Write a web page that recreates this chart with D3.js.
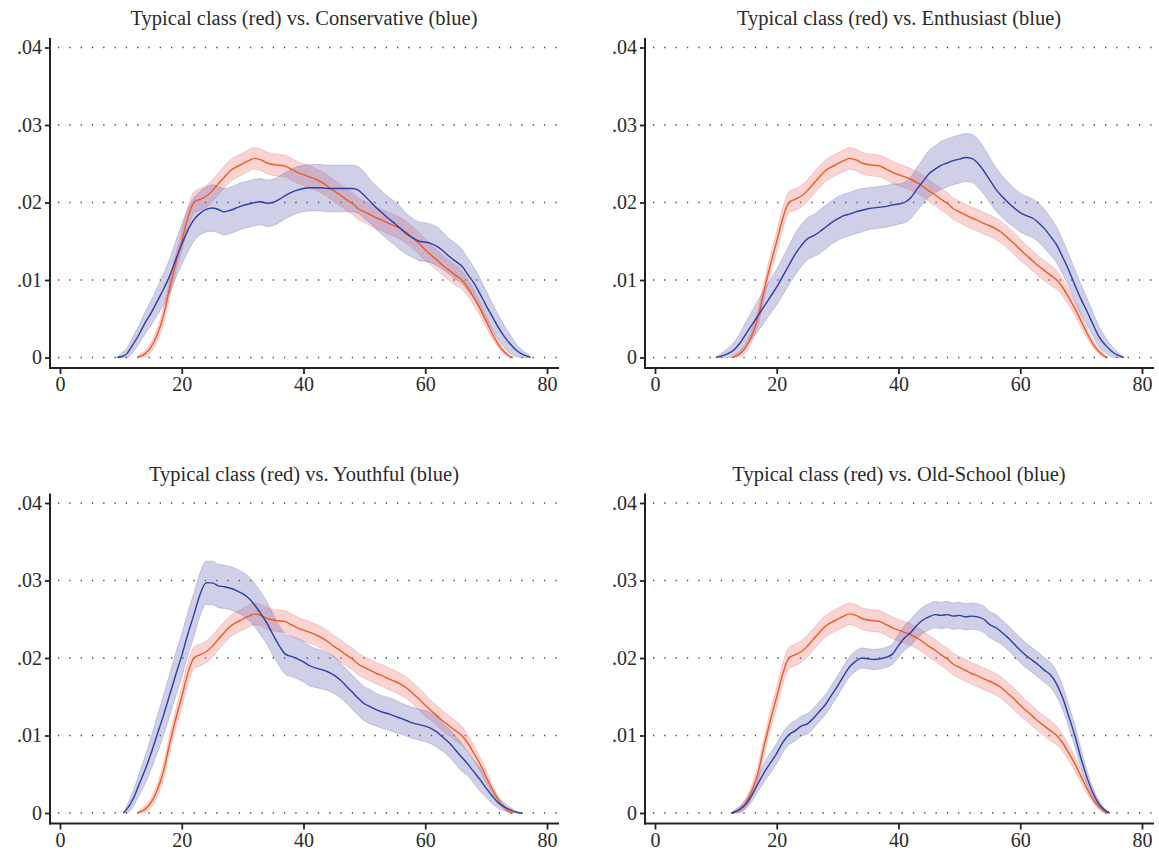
<!DOCTYPE html>
<html><head><meta charset="utf-8">
<script src="https://cdn.jsdelivr.net/npm/d3@7"></script>
<style>body{margin:0;background:#fff}</style>
</head><body><svg id="c" width="1159" height="855"></svg>
<script>
const xTicks = [0, 20, 40, 60, 80];
const yTicks = [0, 0.01, 0.02, 0.03, 0.04];
const yTickLabels = ["0", ".01", ".02", ".03", ".04"];
const titles = [
  "Typical class (red) vs. Conservative (blue)",
  "Typical class (red) vs. Enthusiast (blue)",
  "Typical class (red) vs. Youthful (blue)",
  "Typical class (red) vs. Old-School (blue)"
];

// Typical class (red), same in every panel
const typicalAge = [12.7,13,14,15,16,17,18,19,20,21,22,23,24,25,26,27,28,29,30,31,32,33,34,35,36,37,38,39,40,41,42,43,44,45,46,47,48,49,50,51,52,53,54,55,56,57,58,59,60,61,62,63,64,65,66,67,68,69,70,71,72,73,74,74.4];
const typicalMean = [0,.0001,.0005,.0014,.0030,.0054,.0089,.0121,.0150,.0180,.0200,
  .0204,.0208,.0215,.0224,.0233,.0241,.0246,.0250,.0254,.0257,
  .0255,.0251,.0249,.0248,.0247,.0243,.0239,.0236,.0233,.0230,
  .0226,.0221,.0215,.0210,.0204,.0199,.0192,.0188,.0184,.0180,
  .0177,.0173,.0170,.0166,.0161,.0154,.0147,.0139,.0132,.0125,
  .0118,.0112,.0106,.0100,.0090,.0077,.0063,.0047,.0031,.0017,
  .0007,.0001,0];
const typicalCI = [0,.0002,.0004,.0006,.0008,.001,.0011,.0012,.0013,.0014,.0014,
  .0014,.0014,.0014,.0014,.0014,.0014,.0014,.0014,.0014,.0014,
  .0014,.0014,.0014,.0014,.0014,.0014,.0014,.0014,.0014,.0014,
  .0014,.0014,.0014,.0014,.0014,.0014,.0014,.0014,.0014,.0014,
  .0014,.0014,.0014,.0014,.0014,.0014,.0014,.0014,.0013,.0013,
  .0013,.0013,.0013,.0012,.0011,.001,.0009,.0008,.0006,.0004,
  .0003,.0001,0];

// Conservative (blue)
const conservativeAge = [9.4,10,11,12,13,14,15,16,17,18,19,20,21,22,23,24,25,26,27,28,29,30,31,32,33,34,35,36,37,38,39,40,41,42,43,44,45,46,47,48,49,50,51,52,53,54,55,56,57,58,59,60,61,62,63,64,65,66,67,68,69,70,71,72,73,74,75,76,77,77.3];
const conservativeMean = [0,.0001,.0005,.0017,.0030,.0045,.0058,.0073,.0088,.0105,.0126,
  .0146,.0164,.0178,.0186,.0191,.0193,.0191,.0188,.0190,.0193,
  .0196,.0198,.0200,.0201,.0199,.0200,.0204,.0209,.0213,.0216,
  .0218,.0219,.0219,.0219,.0218,.0218,.0218,.0218,.0218,.0216,
  .0209,.0201,.0193,.0186,.0179,.0173,.0166,.0159,.0154,.0150,
  .0149,.0147,.0143,.0137,.0130,.0124,.0118,.0107,.0096,.0082,
  .0067,.0053,.0039,.0027,.0017,.0009,.0004,.0001,0];
const conservativeCI = [0,.0004,.0007,.001,.0012,.0014,.0016,.0018,.002,.0022,.0024,
  .0026,.0028,.0028,.0028,.0029,.003,.003,.003,.003,.003,
  .003,.003,.003,.003,.003,.003,.003,.003,.003,.003,
  .003,.003,.003,.003,.003,.003,.003,.003,.003,.003,
  .003,.0028,.0028,.0028,.0028,.0028,.0028,.0026,.0025,.0025,
  .0025,.0025,.0025,.0024,.0023,.0023,.0022,.0021,.002,.002,
  .0019,.0017,.0016,.0014,.0012,.0008,.0005,.0002,0];

// Enthusiast (blue)
const enthusiastAge = [10,11,12,13,14,15,16,17,18,19,20,21,22,23,24,25,26,27,28,29,30,31,32,33,34,35,36,37,38,39,40,41,42,43,44,45,46,47,48,49,50,51,52,53,54,55,56,57,58,59,60,61,62,63,64,65,66,67,68,69,70,71,72,73,74,75,76,77];
const enthusiastMean = [0,.0002,.0005,.0010,.0019,.0031,.0043,.0055,.0067,.0079,
  .0091,.0105,.0119,.0133,.0144,.0153,.0157,.0162,.0168,.0174,
  .0179,.0183,.0185,.0188,.0190,.0192,.0193,.0194,.0195,.0197,
  .0198,.0200,.0206,.0217,.0227,.0237,.0243,.0248,.0251,.0254,
  .0256,.0258,.0257,.0251,.0241,.0229,.0217,.0208,.0200,.0193,
  .0187,.0183,.0180,.0174,.0166,.0156,.0145,.0129,.0112,.0093,
  .0075,.0059,.0042,.0026,.0016,.0008,.0003,0];
const enthusiastCI = [0,.0004,.0007,.001,.0013,.0016,.0018,.002,.0021,.0022,
  .0023,.0024,.0025,.0027,.0027,.0027,.0027,.0028,.0028,.0028,
  .0028,.0028,.0028,.0028,.0028,.0027,.0027,.0027,.0027,.0027,
  .0026,.0026,.0027,.0028,.0029,.003,.003,.0031,.0031,.0031,
  .0031,.0031,.0031,.0031,.003,.0029,.0028,.0027,.0026,.0025,
  .0025,.0025,.0025,.0025,.0025,.0024,.0023,.0022,.0021,.002,
  .0019,.0017,.0015,.0013,.001,.0007,.0004,0];

// Youthful (blue)
const youthfulAge = [10.4,11,12,13,14,15,16,17,18,19,20,21,22,23,24,25,26,27,28,29,30,31,32,33,34,35,36,37,38,39,40,41,42,43,44,45,46,47,48,49,50,51,52,53,54,55,56,57,58,59,60,61,62,63,64,65,66,67,68,69,70,71,72,73,74,75,75.9];
const youthfulMean = [0,.0005,.0018,.0037,.0056,.0078,.0102,.0126,.0152,.0178,
  .0203,.0231,.0256,.0282,.0297,.0297,.0293,.0292,.0290,.0287,
  .0283,.0277,.0268,.0257,.0245,.0230,.0216,.0205,.0202,.0199,
  .0195,.0190,.0187,.0185,.0182,.0178,.0172,.0164,.0156,.0148,
  .0141,.0137,.0133,.0130,.0128,.0125,.0122,.0119,.0116,.0114,
  .0112,.0109,.0104,.0097,.0090,.0081,.0072,.0063,.0053,.0043,
  .0032,.0022,.0013,.0008,.0004,.0001,0];
const youthfulCI = [0,.0005,.001,.0014,.0018,.0021,.0024,.0026,.0027,.0028,
  .0028,.0028,.0028,.0028,.0028,.0028,.0028,.0028,.0028,.0028,
  .0028,.0028,.0028,.0028,.0027,.0027,.0026,.0026,.0026,.0026,
  .0026,.0026,.0025,.0025,.0024,.0024,.0023,.0022,.0022,.0022,
  .0022,.0022,.0021,.0021,.0021,.0021,.002,.002,.002,.002,
  .002,.002,.002,.0018,.0018,.0018,.0018,.0015,.0015,.0015,
  .0012,.001,.0007,.0005,.0003,.0001,0];

// Old-School (blue)
const oldSchoolAge = [12.5,13,14,15,16,17,18,19,20,21,22,23,24,25,26,27,28,29,30,31,32,33,34,35,36,37,38,39,40,41,42,43,44,45,46,47,48,49,50,51,52,53,54,55,56,57,58,59,60,61,62,63,64,65,66,67,68,69,70,71,72,73,74,74.7];
const oldSchoolMean = [0,.0001,.0005,.0012,.0024,.0039,.0053,.0065,
  .0077,.0091,.0101,.0106,.0112,.0115,.0122,.0131,.0140,.0152,
  .0164,.0177,.0189,.0196,.0200,.0199,.0198,.0199,.0201,.0205,
  .0216,.0226,.0233,.0242,.0249,.0253,.0256,.0255,.0256,.0254,
  .0255,.0253,.0254,.0253,.0250,.0243,.0239,.0233,.0226,.0218,
  .0210,.0203,.0197,.0191,.0184,.0178,.0166,.0148,.0124,.0099,
  .0070,.0045,.0025,.0011,.0003,0];
const oldSchoolCI = [0,.0002,.0004,.0006,.0008,.001,.0012,.0013,
  .0013,.0013,.0013,.0013,.0013,.0013,.0013,.0013,.0013,.0013,
  .0013,.0013,.0013,.0013,.0013,.0013,.0013,.0013,.0013,.0013,
  .0015,.0016,.0017,.0017,.0017,.0017,.0017,.0017,.0017,.0017,
  .0017,.0017,.0017,.0017,.0017,.0017,.0017,.0016,.0016,.0016,
  .0016,.0016,.0016,.0016,.0016,.0016,.0016,.0015,.0014,.0014,
  .0012,.0009,.0006,.0004,.0002,0];

const zip = (a, m, c) => a.map((v, i) => ({a: v, m: m[i], c: c[i]}));
const typical = zip(typicalAge, typicalMean, typicalCI);
const panels = [
  {title: titles[0], blue: zip(conservativeAge, conservativeMean, conservativeCI)},
  {title: titles[1], blue: zip(enthusiastAge, enthusiastMean, enthusiastCI)},
  {title: titles[2], blue: zip(youthfulAge, youthfulMean, youthfulCI)},
  {title: titles[3], blue: zip(oldSchoolAge, oldSchoolMean, oldSchoolCI)}
];
const layout = [{ax: 50, top: 0}, {ax: 645, top: 0}, {ax: 50, top: 455.5}, {ax: 645, top: 455.5}];

const FONT = "'Liberation Serif', 'Times New Roman', serif";
const svg = d3.select("#c");

panels.forEach((p, i) => {
  const L = layout[i];
  const x = d3.scaleLinear().domain([0, 80]).range([L.ax + 10, L.ax + 497]);
  const y = d3.scaleLinear().domain([0, 0.04]).range([357.5 + L.top, 47.5 + L.top]);
  const g = svg.append("g");

  // title
  g.append("text").attr("x", L.ax + 254).attr("y", 25 + L.top)
    .attr("text-anchor", "middle").attr("font-family", FONT).attr("font-size", 20.5)
    .attr("fill", "#2a2a2a").text(p.title);

  // dotted gridlines
  g.selectAll("line.grid").data(yTicks).join("line").attr("class", "grid")
    .attr("x1", L.ax + 8).attr("x2", L.ax + 507)
    .attr("y1", d => y(d)).attr("y2", d => y(d))
    .attr("stroke", "#444").attr("stroke-width", 1.3)
    .attr("stroke-dasharray", "1.3,10");

  const area = d3.area().x(d => x(d.a))
    .y0(d => y(Math.max(0, d.m - d.c))).y1(d => y(d.m + d.c))
    .curve(d3.curveMonotoneX);
  const line = d3.line().x(d => x(d.a)).y(d => y(d.m)).curve(d3.curveMonotoneX);

  g.append("path").datum(typical).attr("d", area)
    .attr("fill", "rgba(238,110,110,0.30)")
    .attr("stroke", "rgba(225,110,110,0.35)").attr("stroke-width", 0.8);
  g.append("path").datum(p.blue).attr("d", area)
    .attr("fill", "rgba(110,110,185,0.33)")
    .attr("stroke", "rgba(100,100,170,0.35)").attr("stroke-width", 0.8);
  g.append("path").datum(typical).attr("d", line)
    .attr("fill", "none").attr("stroke", "#f25a1c").attr("stroke-width", 1.4);
  g.append("path").datum(p.blue).attr("d", line)
    .attr("fill", "none").attr("stroke", "#2a3ea8").attr("stroke-width", 1.4);

  // y axis
  const ya = g.append("g").attr("transform", `translate(${L.ax},0)`)
    .call(d3.axisLeft(y).tickValues(yTicks).tickFormat((d, k) => yTickLabels[k])
      .tickSize(5).tickPadding(3));
  ya.select(".domain").remove();
  ya.selectAll(".tick line").attr("stroke", "#222").attr("stroke-width", 1.8);
  ya.selectAll(".tick text").attr("font-family", FONT).attr("font-size", 20).attr("fill", "#2a2a2a");
  g.append("line").attr("x1", L.ax).attr("x2", L.ax)
    .attr("y1", 38 + L.top).attr("y2", 369 + L.top)
    .attr("stroke", "#222").attr("stroke-width", 2);

  // x axis
  const xa = g.append("g").attr("transform", `translate(0,${368 + L.top})`)
    .call(d3.axisBottom(x).tickValues(xTicks).tickFormat(d3.format("d"))
      .tickSize(6).tickPadding(3));
  xa.select(".domain").remove();
  xa.selectAll(".tick line").attr("stroke", "#222").attr("stroke-width", 1.8);
  xa.selectAll(".tick text").attr("font-family", FONT).attr("font-size", 20).attr("fill", "#2a2a2a");
  g.append("line").attr("x1", L.ax - 1).attr("x2", L.ax + 509)
    .attr("y1", 368 + L.top).attr("y2", 368 + L.top)
    .attr("stroke", "#222").attr("stroke-width", 2);
});
</script>
</body></html>
